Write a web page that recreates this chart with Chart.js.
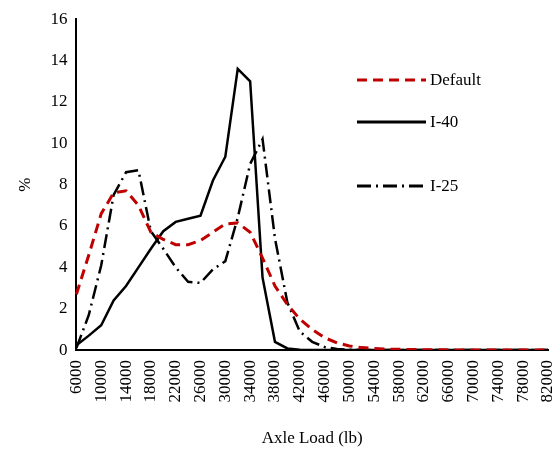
<!DOCTYPE html>
<html><head><meta charset="utf-8">
<script src="https://cdn.jsdelivr.net/npm/chart.js@4/dist/chart.umd.min.js"></script>
<style>html,body{margin:0;background:#fff}#wrap{width:560px;height:456px}</style>
</head><body><div id="wrap"><canvas id="c"></canvas></div>
<script>
const loads = [];
for (let v = 6000; v <= 82000; v += 2000) loads.push(String(v));
const defaultPct = [2.7,4.6,6.6,7.6,7.7,7.0,5.7,5.35,5.1,5.1,5.3,5.7,6.1,6.15,5.7,4.45,3.1,2.2,1.5,1.0,0.6,0.35,0.2,0.12,0.08,0.05,0.04,0.03,0.02,0.02,0.01,0.01,0.01,0.01,0,0,0,0,0];
const i40Pct = [0.24,0.7,1.2,2.4,3.1,4.0,4.9,5.75,6.2,6.35,6.5,8.2,9.35,13.6,13.0,3.5,0.4,0.08,0.02,0.01,0,0,0,0,0,0,0,0,0,0,0,0,0,0,0,0,0,0,0];
const i25Pct = [0.1,1.7,4.1,7.5,8.6,8.7,5.75,4.9,4.0,3.3,3.25,3.9,4.3,6.4,9.0,10.2,5.4,2.3,0.9,0.4,0.15,0.05,0.02,0.01,0,0,0,0,0,0,0,0,0,0,0,0,0,0,0];
const yTicks = [0,2,4,6,8,10,12,14,16];

const FONT = 'Liberation Serif, Times New Roman, serif';
Chart.defaults.font.family = FONT;
Chart.defaults.color = '#000';

const legendItems = [
  { label: 'Default', color: '#c00000', dash: [10, 6], y: 80 },
  { label: 'I-40', color: '#000', dash: [], y: 122 },
  { label: 'I-25', color: '#000', dash: [14, 5, 2, 5], y: 186 },
];
const insideLegend = {
  id: 'insideLegend',
  afterDraw(chart) {
    const ctx = chart.ctx;
    ctx.save();
    legendItems.forEach((it) => {
      ctx.strokeStyle = it.color;
      ctx.lineWidth = 3;
      ctx.setLineDash(it.dash);
      ctx.beginPath();
      ctx.moveTo(357, it.y);
      ctx.lineTo(426, it.y);
      ctx.stroke();
      ctx.setLineDash([]);
      ctx.fillStyle = '#000';
      ctx.font = '17px ' + FONT;
      ctx.textBaseline = 'middle';
      ctx.fillText(it.label, 430, it.y + 1);
    });
    ctx.restore();
  },
};

new Chart(document.getElementById('c'), {
  type: 'line',
  data: {
    labels: loads,
    datasets: [
      { data: defaultPct, borderColor: '#c00000', borderDash: [10, 6], borderWidth: 3 },
      { data: i40Pct, borderColor: '#000', borderWidth: 2.5 },
      { data: i25Pct, borderColor: '#000', borderDash: [14, 5, 2, 5], borderWidth: 2.5 },
    ],
  },
  options: {
    responsive: true,
    maintainAspectRatio: false,
    animation: false,
    layout: { padding: { top: 10, right: 12, left: 11, bottom: 3 } },
    elements: { point: { radius: 0 }, line: { tension: 0 } },
    plugins: { legend: { display: false }, tooltip: { enabled: false } },
    scales: {
      x: {
        afterFit: (s) => { s.paddingRight = 0; },
        grid: { display: false, drawTicks: false },
        border: { color: '#000', width: 2 },
        ticks: {
          autoSkip: false, maxRotation: 90, minRotation: 90, padding: 10,
          font: { size: 17 },
          callback: (v, i) => (i % 2 === 0 ? loads[i] : ''),
        },
        title: { display: true, text: 'Axle Load (lb)', font: { size: 17 }, padding: { top: 16 } },
      },
      y: {
        min: 0, max: 16,
        afterBuildTicks: (ax) => { ax.ticks = yTicks.map((v) => ({ value: v })); },
        grid: { display: false, drawTicks: false },
        border: { color: '#000', width: 2 },
        ticks: { font: { size: 17 }, padding: 9 },
        title: { display: true, text: '%', font: { size: 17 }, padding: { bottom: 6 } },
      },
    },
  },
  plugins: [insideLegend],
});
</script></body></html>
